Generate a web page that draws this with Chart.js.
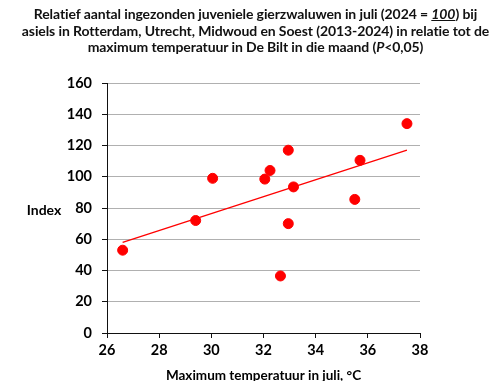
<!DOCTYPE html>
<html>
<head>
<meta charset="utf-8">
<script src="https://cdn.jsdelivr.net/npm/chart.js@4"></script>
<style>
  body { margin: 0; background: #fff; }
  #wrap { position: relative; width: 495px; height: 381px; }
  #title {
    position: absolute; left: 8px; top: 6px; width: 495px;
    text-align: center; white-space: nowrap;
    font-family: Lato, sans-serif; font-weight: bold; font-size: 14px;
    line-height: 16.5px; color: #111; letter-spacing: -0.1px;
  }
  canvas { position: absolute; left: 0; top: 0; }
</style>
</head>
<body>
<div id="wrap">
  <canvas id="chart" width="495" height="381"></canvas>
  <div id="title">
    Relatief aantal ingezonden juveniele gierzwaluwen in juli (2024 = <i><u>100</u></i>) bij<br>
    asiels in Rotterdam, Utrecht, Midwoud en Soest (2013-2024) in relatie tot de<br>
    maximum temperatuur in De Bilt in die maand (<i>P</i>&lt;0,05)
  </div>
</div>
<script>
// Max temperature in July (°C) and relative index per year
const temps = [26.6, 29.4, 30.05, 32.05, 32.25, 32.95, 33.15, 32.95, 32.65, 35.5, 35.7, 37.5];
const index = [53, 72, 99, 98.5, 104, 117, 93.5, 70, 36.5, 85.5, 110.5, 134];

// trend line end points
const trendX = [26.6, 37.5];
const trendY = [58, 117];

const xTicks = [26, 28, 30, 32, 34, 36, 38];
const yTicks = [0, 20, 40, 60, 80, 100, 120, 140, 160];

const font = "Lato, sans-serif";

// horizontal "Index" label next to the y axis
const indexLabel = {
    id: "indexLabel",
    afterDraw(chart) {
        const ctx = chart.ctx;
        ctx.save();
        ctx.font = "bold 14px " + font;
        ctx.fillStyle = "#000";
        ctx.textAlign = "center";
        ctx.textBaseline = "middle";
        ctx.fillText("Index", 44, 210);
        ctx.restore();
    }
};

new Chart(document.getElementById("chart"), {
    type: "scatter",
    data: {
        datasets: [{
            data: temps.map((t, i) => ({ x: t, y: index[i] })),
            backgroundColor: "#ff0000",
            borderColor: "#ff0000",
            pointRadius: 5,
            pointHoverRadius: 5
        }, {
            type: "line",
            data: trendX.map((t, i) => ({ x: t, y: trendY[i] })),
            borderColor: "#ff0000",
            borderWidth: 1.3,
            pointRadius: 0,
            fill: false
        }]
    },
    options: {
        responsive: false,
        animation: false,
        layout: { padding: { top: 83, right: 75, left: 0, bottom: 0 } },
        plugins: { legend: { display: false }, tooltip: { enabled: false } },
        scales: {
            x: {
                type: "linear",
                min: 26, max: 38,
                afterBuildTicks: s => { s.ticks = xTicks.map(v => ({ value: v })); },
                afterFit: s => { s.height = 48; },
                ticks: { color: "#000", font: { family: font, size: 14.5, weight: "bold" }, padding: 4 },
                grid: { drawOnChartArea: false, tickLength: 5, tickColor: "#111" },
                border: { color: "#111", width: 1 },
                title: {
                    display: true,
                    text: "Maximum temperatuur in juli, °C",
                    color: "#000",
                    font: { family: font, size: 13.5, weight: "bold" },
                    padding: { top: 0, bottom: -3 }
                }
            },
            y: {
                min: 0, max: 160,
                afterBuildTicks: s => { s.ticks = yTicks.map(v => ({ value: v })); },
                afterFit: s => { s.width = 107; },
                ticks: { color: "#000", font: { family: font, size: 14.5, weight: "bold" }, padding: 10 },
                grid: { color: "#b0b0b0", tickLength: 5, tickColor: "#111" },
                border: { color: "#111", width: 1 }
            }
        }
    },
    plugins: [indexLabel]
});
</script>
</body>
</html>
